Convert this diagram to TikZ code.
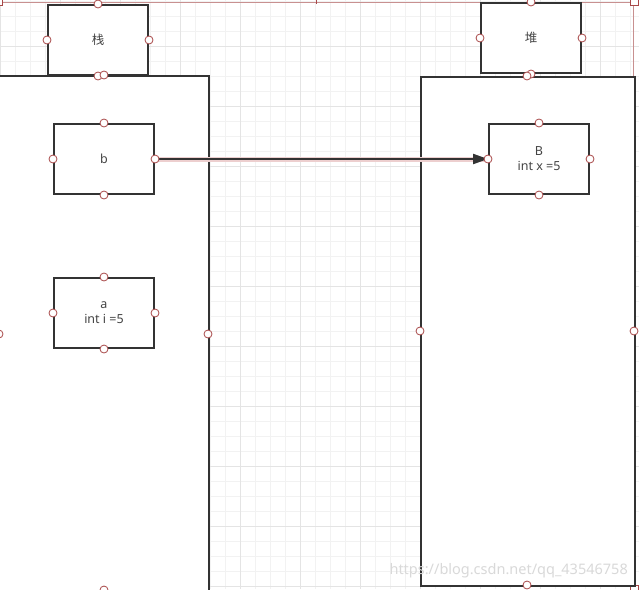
\documentclass[tikz,border=0pt]{standalone}
\usepackage{fontspec}
\setmainfont{Noto Sans}
\newfontfamily\cjk{Noto Sans CJK SC}
\usetikzlibrary{arrows.meta}
\definecolor{gridminor}{HTML}{F2F2F2}
\definecolor{gridmajor}{HTML}{E4E4E4}
\definecolor{boxline}{HTML}{333333}
\definecolor{portred}{HTML}{A84848}
\definecolor{selred}{HTML}{C89090}
\definecolor{halo}{HTML}{EDCFCF}
\definecolor{txt}{HTML}{444444}
\tikzset{
  box/.style={draw=boxline, line width=2pt, fill=white, rectangle, inner sep=0pt,
    font=\fontsize{12.5}{15}\selectfont, text=txt, align=center},
  port/.style={circle, draw=portred, fill=white, line width=0.8pt, minimum size=8pt, inner sep=0pt},
}
\begin{document}
\begin{tikzpicture}[x=1pt,y=-1pt]
\useasboundingbox (0,0) rectangle (639,589);
\clip (0,0) rectangle (639,589);
\fill[white] (0,0) rectangle (639,589);
% grid
\foreach \i in {0,15,...,645} {\draw[gridminor, line width=0.8pt] (\i,0) -- (\i,589);}
\foreach \j in {1.7,16.7,...,600} {\draw[gridminor, line width=0.8pt] (0,\j) -- (639,\j);}
\foreach \i in {0,60,...,640} {\draw[gridmajor, line width=0.8pt] (\i,0) -- (\i,589);}
\foreach \j in {46.7,106.7,...,600} {\draw[gridmajor, line width=0.8pt] (0,\j) -- (639,\j);}
% selection frame
\draw[selred, line width=0.8pt] (0,2.5) -- (633,2.5) -- (633,589);
\fill[portred] (315.5,0) rectangle (317,3.5);
\draw[portred, line width=0.8pt, fill=white] (-3,-3) rectangle (2.5,5.5);
\draw[portred, line width=0.8pt, fill=white] (630,-3) rectangle (638,5.5);
\draw[portred, line width=0.8pt, fill=white] (630,585) rectangle (638,593);
\draw[portred, line width=0.8pt, fill=white] (-3,586) rectangle (2.5,593);
% big containers
\node[box, minimum width=210pt, minimum height=520pt, anchor=north west] (stackarea) at (-2,75) {};
\node[box, minimum width=214pt, minimum height=509pt, anchor=north west] (heaparea) at (420,76) {};
% titles
\node[box, minimum width=100pt, minimum height=70pt] (stacktitle) at (98,40) {\cjk 栈};
\node[box, minimum width=100pt, minimum height=70pt] (heaptitle) at (531,38) {\cjk 堆};
% inner boxes
\node[box, minimum width=100pt, minimum height=70pt] (b) at (104,159) {b};
\node[box, minimum width=100pt, minimum height=70pt] (a) at (104,313) {a\\int i =5};
\node[box, minimum width=100pt, minimum height=70pt] (B) at (539,159) {B\\int x =5};
% arrow
\draw[halo, line width=5pt] (b.east) -- (B.west);
\draw[boxline, line width=2.2pt, -{Triangle[length=15pt,width=10pt]}] (b.east) -- (B.west);
% ports
\foreach \n in {stacktitle,heaptitle,b,a,B} {
  \node[port] at (\n.north) {};
  \node[port] at (\n.south) {};
  \node[port] at (\n.east) {};
  \node[port] at (\n.west) {};
}
\node[port] at (104,75) {};
\node[port] at (208,334) {};
\node[port] at (-1,334) {};
\node[port] at (104,590) {};
\node[port] at (527,76) {};
\node[port] at (420,331) {};
\node[port] at (634,331) {};
\node[port] at (527,585) {};
% watermark
\node[text=black!15, font=\fontsize{14.5}{15}\selectfont, anchor=west] (wm) at (386,571) {https://blog.csdn.net/qq\_43546758};
\end{tikzpicture}
\end{document}
